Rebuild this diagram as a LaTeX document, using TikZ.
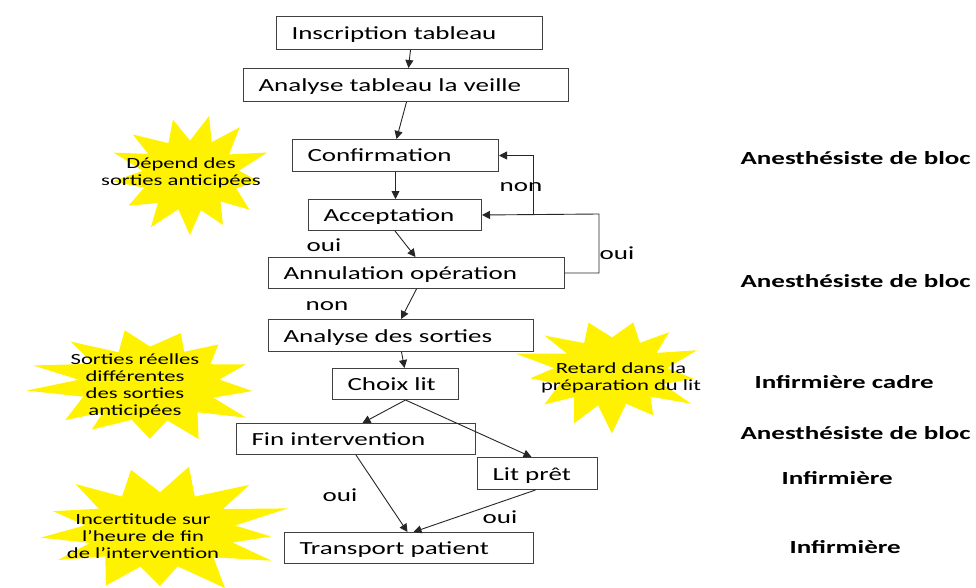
\documentclass[tikz,border=0pt]{standalone}
\usepackage{fontspec}
\setmainfont[FakeStretch=1.46]{Carlito}
\usetikzlibrary{arrows.meta}
\newcommand{\myburst}[5]{% cx, cy, rx, ry, seed
  \pgfmathsetseed{#5}
  \fill[yellow] plot[samples at={0,...,25}, variable=\i]
    ({#1 + #3*(mod(\i,2)==0 ? 0.78+0.22*rnd : 0.52+0.06*rnd)*cos(\i*360/26+7)},
     {#2 + #4*(mod(\i,2)==0 ? 0.78+0.22*rnd : 0.52+0.06*rnd)*sin(\i*360/26+7)}) -- cycle;}
\begin{document}
\begin{tikzpicture}[x=1pt,y=-1pt,
 box/.style={draw=black!75, line width=1pt, anchor=north west, inner xsep=15pt, inner ysep=0pt, align=left, text height=15.5pt, text depth=2.5pt, font=\fontsize{18.5}{20}\selectfont},
 arr/.style={draw=black!85, line width=0.9pt, -{Triangle[length=8pt,width=8pt]}},
 lbl/.style={font=\fontsize{18.5}{20}\selectfont},
 role/.style={font=\fontsize{18.5}{20}\selectfont\bfseries, anchor=west},
 bursttext/.style={align=center, font=\fontsize{15.5}{17}\selectfont}]
\useasboundingbox (0,0) rectangle (976,588);
\fill[white] (0,0) rectangle (976,588);
\begin{scope}
\clip (0,0) rectangle (976,588);
% bursts
\myburst{190}{175}{88}{66}{11}
\myburst{150}{384}{130}{66}{23}
\myburst{612}{372}{104}{62}{37}
\myburst{160}{530}{142}{66}{51}
\end{scope}
\node[bursttext] (b1t) at (181,173) {Dépend des\\sorties anticipées};
\node[bursttext] (b2t) at (135,386) {Sorties réelles\\différentes\\des sorties\\anticipées};
\node[bursttext] (b3t) at (621,378) {Retard dans la\\préparation du lit};
\node[bursttext] (b4t) at (143,536) {Incertitude sur\\l’heure de fin\\de l’intervention};

% boxes
\node[box, text width=236pt, minimum height=33pt] (ins) at (276,16) {Inscription tableau};
\node[box, text width=295pt, minimum height=33pt] (ana) at (243,68) {Analyse tableau la veille};
\node[box, text width=176pt, minimum height=32pt] (conf) at (292,139) {Confirmation};
\node[box, text width=143pt, minimum height=31pt] (acc) at (308,199) {Acceptation};
\node[box, text width=266pt, minimum height=31pt] (ann) at (268,257) {Annulation opération};
\node[box, text width=235pt, minimum height=32pt] (ads) at (268,319) {Analyse des sorties};
\node[box, text width=96pt, minimum height=31pt] (cho) at (332,368) {Choix lit};
\node[box, text width=209pt, minimum height=31pt] (fin) at (236,423) {Fin intervention};
\node[box, text width=90pt, minimum height=32pt] (lit) at (477,457) {Lit prêt};
\node[box, text width=219pt, minimum height=31pt] (tra) at (284,532) {Transport patient};

% arrows
\draw[arr] ([xshift=1pt]ins.south) -- ([xshift=2.5pt]ana.north);
\draw[arr] ([xshift=0.5pt]ana.south) -- ([xshift=1pt]conf.north);
\draw[arr] (conf.south) -- (conf.south |- acc.north);
\draw[arr] (acc.south) -- ([xshift=-1pt]ann.north);
\draw[arr] (ann.south) -- (ads.north);
\draw[arr] ([xshift=0.5pt]ads.south) -- ([xshift=9pt]cho.north);
\draw[arr] ([xshift=10pt]cho.south) -- ([xshift=6.5pt]fin.north);
\draw[arr] ([xshift=10pt]cho.south) -- ([xshift=-6pt]lit.north);
\draw[arr] (fin.south) -- ([xshift=-1.5pt]tra.north);
\draw[arr] ([xshift=-2pt]lit.south) -- ([xshift=4.5pt]tra.north);

% feedback loops
\coordinate (fb1) at (599,214);
\coordinate (fb2) at (533,214);
\draw[arr] (ann.east) -| (fb1) -- (acc.east);
\draw[arr] (fb2) |- (conf.east);

% labels
\node[lbl] (l1) at (521,187) {non};
\node[lbl] (l2) at (617,253) {oui};
\node[lbl] (l3) at (324,245) {oui};
\node[lbl] (l4) at (327,306) {non};
\node[lbl] (l5) at (340,495) {oui};
\node[lbl] (l6) at (500,517) {oui};

% roles
\node[role] (r1) at (737,158) {Anesthésiste de bloc};
\node[role] (r2) at (737,281) {Anesthésiste de bloc};
\node[role] (r3) at (751,382) {Infirmière cadre};
\node[role] (r4) at (737,433) {Anesthésiste de bloc};
\node[role] (r5) at (778,478) {Infirmière};
\node[role] (r6) at (786,547) {Infirmière};
\end{tikzpicture}
\end{document}
